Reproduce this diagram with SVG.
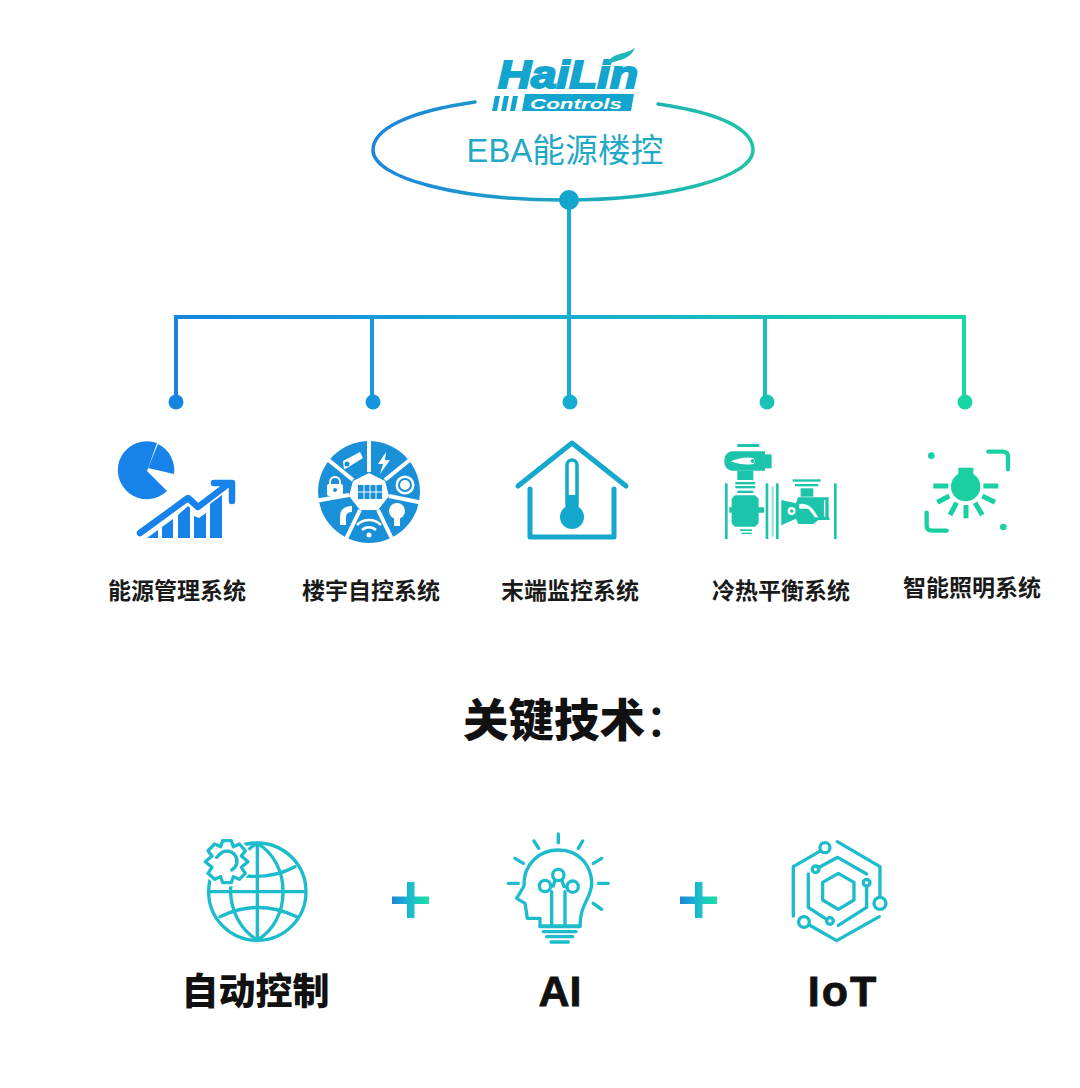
<svg xmlns="http://www.w3.org/2000/svg" width="1080" height="1088" viewBox="0 0 1080 1088">
<style>
.lab{font-family:"Noto Sans CJK SC","Noto Sans",sans-serif;font-weight:700;font-size:23px;fill:#1a1a1a;text-anchor:middle}
.big{font-family:"Noto Sans CJK SC","Noto Sans",sans-serif;font-weight:900;fill:#111;text-anchor:middle}
.ln{fill:none;stroke-linecap:round;stroke-linejoin:round}
.g1{stroke:#1cbccc;stroke-width:10}
.w{fill:#fff}
</style>
<defs>
<linearGradient id="ell" gradientUnits="userSpaceOnUse" x1="373" y1="0" x2="753" y2="0"><stop offset="0" stop-color="#1a86dc"/><stop offset="1" stop-color="#1fc4a6"/></linearGradient>
<linearGradient id="bus" gradientUnits="userSpaceOnUse" x1="176" y1="0" x2="965" y2="0"><stop offset="0" stop-color="#1485e0"/><stop offset="0.5" stop-color="#16aed0"/><stop offset="1" stop-color="#1ad6a4"/></linearGradient>
<linearGradient id="plus" x1="0" y1="0" x2="1" y2="0"><stop offset="0" stop-color="#1a86dc"/><stop offset="0.5" stop-color="#1cbccc"/><stop offset="1" stop-color="#1fe0a0"/></linearGradient>
</defs>

<g id="connectors" fill="none" stroke="url(#bus)" stroke-width="4">
<path d="M176 402V317H964V402M372 317V402M569 200V402M765 317V402"/>
<g stroke="none">
<circle cx="176" cy="402" r="7.5" fill="#1485e0"/>
<circle cx="373" cy="402" r="7.5" fill="#1495dc"/>
<circle cx="570" cy="402" r="7.5" fill="#16aed0"/>
<circle cx="767" cy="402" r="7.5" fill="#18c2b8"/>
<circle cx="965" cy="402" r="7.5" fill="#1ad6a4"/>
</g>
</g>

<g id="root">
<path d="M475 102C405 112 373 130 373 150C373 178 458 200 563 200C668 200 753 178 753 150C753 130 722 113 658 104" fill="none" stroke="url(#ell)" stroke-width="3.5" stroke-linecap="round"/>
<circle cx="569" cy="200" r="10" fill="#14a5cf"/>
<g id="logo" fill="#14a5cf">
<text x="498" y="88" font-family="Liberation Sans,sans-serif" font-weight="700" font-style="italic" font-size="38" textLength="140" lengthAdjust="spacingAndGlyphs" stroke="#14a5cf" stroke-width="2">HaiLin</text>
<path d="M607 64C612 52 625 55 635 48C630 60 618 60 607 64Z" fill="#1fb8b8"/>
<path d="M492 111L495 96H500L497 111ZM501 111L504 96H509L506 111ZM510 111L513 96H518L515 111ZM522 111L525 94H634L631 111Z"/>
<text x="530" y="109" font-family="Liberation Sans,sans-serif" font-weight="700" font-style="italic" font-size="14" fill="#fff" textLength="92" lengthAdjust="spacingAndGlyphs">Controls</text>
</g>
<text x="565" y="162" font-family="Liberation Sans,'Noto Sans CJK SC',sans-serif" font-size="32.500" fill="#1fa9c6" text-anchor="middle" letter-spacing=".3">EBA能源楼控</text>
</g>

<g id="node-energy">
<g fill="#1682ea">
<path d="M147 471L157 443A29 29 0 1 0 167 491Z"/>
<path d="M148 468L158 444A29 29 0 0 1 174 474Z"/>
<path d="M147 538L158 530V538ZM162 538V527L173 519V538ZM178 538V515L188 506L190 508V538ZM194 538V516L199 518L206 513V538ZM210 538V504L222 495V538Z"/>
</g>
<path d="M140 533L188 498L198 507L227 485" class="ln" stroke="#1682ea" stroke-width="6.500"/>
<path d="M214 483H232V501" class="ln" stroke="#1682ea" stroke-width="6.500"/>
<text class="lab" x="177" y="599">能源管理系统</text>
</g>

<g id="node-building">
<circle cx="369" cy="492" r="51" fill="#1a90d8"/>
<g stroke="#fff" stroke-width="4">
<path d="M369 472V436M385 480L412 458M389 496L423 503M378 510L394 543M360 510L344 543M349 495L315 501M353 480L326 458"/>
</g>
<path d="M369 473L385 481L389 496L378 510L360 510L349 496L353 481Z" fill="#fff"/>
<rect x="358" y="485" width="24" height="14" fill="#1a90d8"/>
<g stroke="#fff" stroke-width="1"><path d="M364 485V499M370 485V499M376 485V499M358 492H382"/></g>
<g class="w">
<path d="M386 452L378 464H383L380 474L390 460H385Z"/>
<circle cx="405" cy="485" r="9.500"/>
<circle cx="397" cy="511" r="8"/>
<rect x="394" y="518" width="6" height="8"/>
<rect x="327" y="484" width="16" height="12" rx="2"/>
<path d="M343 461l17-9 3 6-16 10-3 1Z"/>
</g>
<path d="M343 525V517Q343 509 352 509" fill="none" stroke="#fff" stroke-width="6"/>
<circle cx="405" cy="485" r="6" fill="none" stroke="#1a90d8" stroke-width="2"/>
<circle cx="347" cy="464" r="2.500" fill="#1a90d8"/>
<circle cx="335" cy="490" r="2" fill="#1a90d8"/>
<path d="M330 485v-3a5 5 0 0 1 10 0v3" fill="none" stroke="#fff" stroke-width="2"/>
<path d="M357 525a17 17 0 0 1 24 0M362 530a10 10 0 0 1 14 0" fill="none" stroke="#fff" stroke-width="2.500"/>
<circle cx="369" cy="535" r="2.500" fill="#fff"/>
<text class="lab" x="371" y="599">楼宇自控系统</text>
</g>

<g id="node-terminal">
<path d="M518 486L572 443L626 486" class="ln" stroke="#14a8cc" stroke-width="5"/>
<path d="M530 489V537H614V489" class="ln" stroke="#14a8cc" stroke-width="5"/>
<rect x="567" y="460" width="10" height="50" rx="5" fill="none" stroke="#14a8cc" stroke-width="3.500"/>
<rect x="566" y="495" width="12" height="20" fill="#14a8cc"/>
<circle cx="572" cy="517" r="12" fill="#14a8cc"/>
<text class="lab" x="570" y="599">末端监控系统</text>
</g>

<g id="node-balance">
<g transform="translate(490 420) scale(.3333)" fill="#1cc4ac">
<rect x="742" y="72" width="66" height="9"/>
<path d="M725 94H825V152H725Q703 148 703 124Q703 99 725 94Z"/>
<rect x="825" y="103" width="20" height="42"/>
<path d="M722 124Q760 108 790 114Q800 124 790 132Q760 138 722 124Z" fill="#fff"/>
<circle cx="788" cy="123" r="6"/>
<rect x="742" y="152" width="48" height="28"/>
<rect x="736" y="186" width="60" height="7"/><rect x="736" y="198" width="60" height="7"/><rect x="742" y="212" width="48" height="7"/>
<path d="M735 226H795L806 236V262H822V278H806V310L795 320H735L725 310V278H718V262H725V236Z"/>
<rect x="750" y="328" width="36" height="5"/><rect x="755" y="338" width="30" height="4"/>
<rect x="705" y="190" width="8" height="167"/>
<rect x="827" y="190" width="8" height="167"/>
<rect x="858" y="190" width="8" height="167"/>
<rect x="1032" y="190" width="8" height="167"/>
<rect x="845" y="200" width="6" height="150" opacity=".5"/>
<path d="M874 240L918 250L924 232H1016V290L1020 300H985L970 312H925L918 296L874 316Z"/>
<circle cx="905" cy="273" r="12" fill="#fff"/><circle cx="905" cy="273" r="5"/>
<path d="M928 252Q955 248 972 272L985 292H975L955 266H928Z" fill="#fff"/>
<rect x="908" y="178" width="84" height="7"/><rect x="915" y="192" width="70" height="7"/><rect x="932" y="205" width="38" height="25"/>
<rect x="1002" y="240" width="4" height="50" fill="#fff"/>
</g>
<text class="lab" x="781" y="599">冷热平衡系统</text>
</g>

<g id="node-lighting">
<g transform="translate(890 430) scale(.3333)">
<g fill="#1ad0a2">
<circle cx="124" cy="77" r="10"/><circle cx="340" cy="291" r="10"/>
<circle cx="227" cy="170" r="44"/><path d="M205 135V113H250V135Z"/>
</g>
<g class="ln" stroke="#1ad0a2" stroke-width="13">
<path d="M295 65H338Q354 65 354 81V118"/>
<path d="M110 248V286Q110 302 126 302H170"/>
</g>
<g fill="none" stroke="#1ad0a2" stroke-width="15">
<path d="M130 168H175M280 168H325M142 217L178 198M277 198L315 217M180 255L200 218M255 218L277 255M228 225V265"/>
</g>
</g>
<text class="lab" x="972" y="596">智能照明系统</text>
</g>

<text id="title" class="big" x="463" y="737" font-size="45.500" style="text-anchor:start">关键技术<tspan font-weight="500">：</tspan></text>

<g id="node-auto">
<g transform="translate(170 820) scale(.3333)">
<g class="ln g1">
<circle cx="262" cy="215" r="146"/>
<path d="M262 70V360M115 215H405"/>
<path d="M262 70C150 130 160 300 262 360M262 70C365 130 365 300 262 360"/>
<path d="M225 168Q310 175 375 140M150 290Q262 235 380 290"/>
</g>
<circle cx="170" cy="125" r="75" fill="#fff"/>
<path class="ln g1" d="M158 62H184L190 80L208 72L226 92L214 108L234 125L214 142L226 160L208 178L190 170L184 188H158L152 170L134 178L114 160L126 142L106 125L126 108L114 92L134 72L152 80Z"/>
<path class="ln g1" d="M185 150A30 30 0 1 0 150 102M150 102L140 112"/>
</g>
<text class="big" x="255.500" y="1005" font-size="37">自动控制</text>
</g>

<g id="plus-1"><path d="M407 882H414.500V896.500H429V904H414.500V918H407V904H392V896.500H407Z" fill="url(#plus)"/></g>

<g id="node-ai">
<g transform="translate(490 820) scale(.3333)">
<g class="ln g1">
<path d="M150 318V295H112L105 250L80 235L102 198C100 130 150 90 205 90C270 90 305 140 305 190C305 235 270 250 270 318Z"/>
<path d="M150 320H270M160 335H258M170 350H248M183 366H235"/>
<path d="M205 42V68M132 63L146 85M278 63L265 85M75 115L100 130M335 115L310 130M55 190H85M325 190H355M310 250L335 268"/>
<circle cx="205" cy="165" r="17"/><circle cx="165" cy="198" r="17"/><circle cx="248" cy="200" r="17"/>
<path d="M185 315V215M225 315V215M182 198H190L195 180M230 200H222L215 180"/>
</g>
</g>
<text class="big" x="560" y="1006" font-size="43" style="font-family:'Liberation Sans',sans-serif;font-weight:700" stroke="#111" stroke-width=".8">AI</text>
</g>

<g id="plus-2"><path d="M695 882H702.500V896.500H717V904H702.500V918H695V904H680V896.500H695Z" fill="url(#plus)"/></g>

<g id="node-iot">
<g transform="translate(490 820) scale(.3333)">
<g class="ln g1">
<path d="M910 288V140L993 92M1042 65L1170 140V230M1168 290L1040 362L958 315"/>
<circle cx="1005" cy="83" r="15"/><circle cx="1170" cy="250" r="18"/><circle cx="942" cy="306" r="16"/>
<circle cx="977" cy="148" r="10"/><circle cx="1130" cy="188" r="10"/><circle cx="1020" cy="303" r="10"/>
<path d="M988 142L1043 112L1130 162M1130 200V262L1045 316M955 162V262L1010 298"/>
<path d="M1045 160L1092 187V240L1045 268L998 240V187Z"/>
</g>
</g>
<text class="big" x="843" y="1006" font-size="43" style="font-family:'Liberation Sans',sans-serif;font-weight:700" stroke="#111" stroke-width=".8" letter-spacing="2">IoT</text>
</g>
</svg>
